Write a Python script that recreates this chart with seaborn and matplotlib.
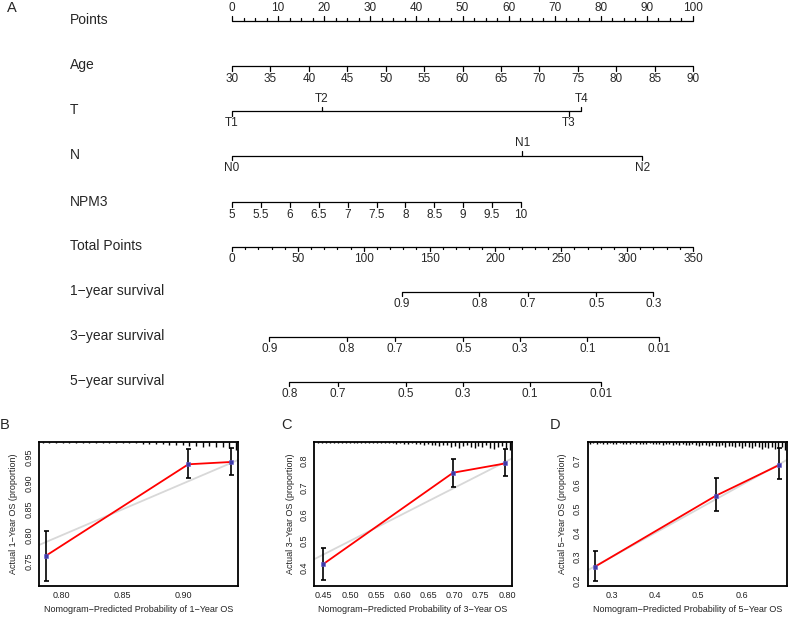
import numpy as np
import matplotlib
matplotlib.use("Agg")
import matplotlib.pyplot as plt
import seaborn as sns

sns.set_theme(style="white")
plt.rcParams["font.family"] = ["Liberation Sans", "DejaVu Sans"]

# ── Nomogram data (positions on the 0-100 "Points" scale) ──────
points_ticks = [0, 10, 20, 30, 40, 50, 60, 70, 80, 90, 100]
age_ticks = [30, 35, 40, 45, 50, 55, 60, 65, 70, 75, 80, 85, 90]
age_range = [30, 90]
t_labels = ["T1", "T2", "T3", "T4"]
t_points = [0, 19.5, 73.1, 75.8]
n_labels = ["N0", "N1", "N2"]
n_points = [0, 63.0, 89.0]
npm3_ticks = [5, 5.5, 6, 6.5, 7, 7.5, 8, 8.5, 9, 9.5, 10]
npm3_range = [5, 10]
npm3_max_points = 62.7
total_ticks = [0, 50, 100, 150, 200, 250, 300, 350]
total_max = 350

surv1_labels = ["0.9", "0.8", "0.7", "0.5", "0.3"]
surv1_total = [129.0, 187.8, 224.5, 276.6, 319.9]
surv3_labels = ["0.9", "0.8", "0.7", "0.5", "0.3", "0.1", "0.01"]
surv3_total = [28.3, 87.1, 123.8, 175.6, 218.7, 269.8, 324.0]
surv5_labels = ["0.8", "0.7", "0.5", "0.3", "0.1", "0.01"]
surv5_total = [43.5, 80.2, 132.1, 175.1, 226.0, 279.9]

# ── Calibration data ────────────────────────────────────────────
cal1_pred = [0.7877, 0.9041, 0.9388]
cal1_obs = [0.7615, 0.9366, 0.9410]
cal1_lo = [0.713, 0.911, 0.917]
cal1_hi = [0.809, 0.965, 0.968]
rug1 = [1, 1, 1, 1, 1, 1, 1, 1, 1, 1, 1, 1, 1, 1, 1, 2, 2, 2, 2, 3,
        3, 3, 4, 4, 5, 4, 5, 5, 6, 8]

cal3_pred = [0.4485, 0.697, 0.797]
cal3_obs = [0.4127, 0.756, 0.791]
cal3_lo = [0.354, 0.704, 0.744]
cal3_hi = [0.475, 0.809, 0.845]
rug3 = [1, 1, 1, 1, 1, 1, 1, 1, 1, 1, 1, 1, 1, 1, 1, 1, 1, 1, 1, 1,
        2, 1, 2, 2, 1, 2, 2, 3, 2, 3, 3, 4, 3, 3, 5, 4, 6, 4, 3, 5,
        6, 4, 5, 3, 6, 7, 5, 4, 6, 8]

cal5_pred = [0.2615, 0.5407, 0.6868]
cal5_obs = [0.2596, 0.5554, 0.6833]
cal5_lo = [0.200, 0.4929, 0.625]
cal5_hi = [0.3238, 0.630, 0.755]
rug5 = [2, 1, 2, 1, 2, 2, 1, 2, 2, 1, 2, 2, 2, 1, 2, 2, 2, 2, 1, 2,
        2, 2, 3, 2, 2, 3, 2, 3, 2, 3, 3, 2, 3, 4, 3, 3, 4, 3, 4, 4,
        3, 5, 4, 4, 5, 4, 6, 4, 5, 6, 4, 5, 7, 5, 6, 5, 7, 6, 5, 8]

W, H = 789, 617
fig = plt.figure(figsize=(W / 100, H / 100), dpi=100)

# ── Nomogram (panel A) ──────────────────────────────────────────
PX = 461 / 100          # pixels per point
X0 = 232                # pixel x of 0 points
ax = fig.add_axes([0, 1 - 400 / H, 1, 400 / H])
ax.set_xlim(-X0 / PX, (W - X0) / PX)
ax.set_ylim(400, 0)
ax.axis("off")

LW = 0.9
TXT = 8.5
MAJ, MIN = 4.5, 2.3


def draw_scale(y, pos, labels, sides, minor=None):
    ax.plot([min(pos), max(pos)], [y, y], color="black", lw=LW,
            solid_capstyle="butt")
    for p, lab, s in zip(pos, labels, sides):
        d = -1 if s == "up" else 1
        ax.plot([p, p], [y, y + d * MAJ], color="black", lw=LW)
        ax.text(p, y + d * 12.5, lab, ha="center", va="center", fontsize=TXT)
    if minor is not None:
        s = sides[0]
        d = -1 if s == "up" else 1
        for p in minor:
            ax.plot([p, p], [y, y + d * MIN], color="black", lw=LW)


def row_label(y, text):
    ax.text((70 - X0) / PX, y, text, ha="left", va="center", fontsize=10)


rows = {"Points": 20.5, "Age": 66, "T": 111, "N": 155.7, "NPM3": 202.3,
        "Total Points": 246.7, "1\u2212year survival": 291.7,
        "3\u2212year survival": 336.7, "5\u2212year survival": 381.7}
for name, y in rows.items():
    row_label(y - 0.8, name)

# Points
draw_scale(rows["Points"], points_ticks, [str(v) for v in points_ticks],
           ["up"] * len(points_ticks),
           minor=[v for v in np.arange(0, 100.1, 2.5) if v % 10 != 0])

# Age
age_pts = np.interp(age_ticks, age_range, [0, 100])
draw_scale(rows["Age"], age_pts, [str(v) for v in age_ticks],
           ["down"] * len(age_ticks))

# T
draw_scale(rows["T"], t_points, t_labels, ["down", "up", "down", "up"])

# N
draw_scale(rows["N"], n_points, n_labels, ["down", "up", "down"])

# NPM3
npm3_pts = np.interp(npm3_ticks, npm3_range, [0, npm3_max_points])
draw_scale(rows["NPM3"], npm3_pts, [f"{v:g}" for v in npm3_ticks],
           ["down"] * len(npm3_ticks))

# Total points
tot_pts = np.array(total_ticks) / total_max * 100
draw_scale(rows["Total Points"], tot_pts, [str(v) for v in total_ticks],
           ["down"] * len(total_ticks),
           minor=[v / total_max * 100 for v in range(0, 351, 10) if v % 50 != 0])

# survival scales
for key, labs, tot in [("1\u2212year survival", surv1_labels, surv1_total),
                       ("3\u2212year survival", surv3_labels, surv3_total),
                       ("5\u2212year survival", surv5_labels, surv5_total)]:
    draw_scale(rows[key], np.array(tot) / total_max * 100, labs,
               ["down"] * len(labs))

# ── Calibration panels (B, C, D) ────────────────────────────────
panels = [
    dict(left=39.3, right=238.3, xlim=(0.7822, 0.945), ylim=(0.7034, 0.9793),
         pred=cal1_pred, obs=cal1_obs, lo=cal1_lo, hi=cal1_hi,
         rug=rug1, rug_span=(0.785, 0.943),
         xt=[0.80, 0.85, 0.90], xfmt="{:.2f}",
         yt=[0.75, 0.80, 0.85, 0.90, 0.95], yfmt="{:.2f}", yr="1",
         letter="B", lx=5, ylab_x=13.5),
    dict(left=314.3, right=511.7, xlim=(0.432, 0.809), ylim=(0.3314, 0.8712),
         pred=cal3_pred, obs=cal3_obs, lo=cal3_lo, hi=cal3_hi,
         rug=rug3, rug_span=(0.44, 0.805),
         xt=[0.45, 0.50, 0.55, 0.60, 0.65, 0.70, 0.75, 0.80], xfmt="{:.2f}",
         yt=[0.4, 0.5, 0.6, 0.7, 0.8], yfmt="{:.1f}", yr="3",
         letter="C", lx=286, ylab_x=290.7),
    dict(left=587.7, right=786.7, xlim=(0.2446, 0.704), ylim=(0.179, 0.779),
         pred=cal5_pred, obs=cal5_obs, lo=cal5_lo, hi=cal5_hi,
         rug=rug5, rug_span=(0.25, 0.70),
         xt=[0.3, 0.4, 0.5, 0.6], xfmt="{:.1f}",
         yt=[0.2, 0.3, 0.4, 0.5, 0.6, 0.7], yfmt="{:.1f}", yr="5",
         letter="D", lx=554.7, ylab_x=562.7),
]

TOP, BOT = 442, 586
FS = 6.5
for p in panels:
    w = p["right"] - p["left"]
    cax = fig.add_axes([p["left"] / W, 1 - BOT / H, w / W, (BOT - TOP) / H])
    cax.set_xlim(*p["xlim"])
    cax.set_ylim(*p["ylim"])

    # ideal line
    cax.axline((0, 0), slope=1, color="#d8d8d8", lw=1.3, zorder=1)
    # observed calibration curve
    sns.lineplot(x=p["pred"], y=p["obs"], ax=cax, color="#ff0000", lw=1.3,
                 zorder=2, sort=True)
    cax.errorbar(p["pred"], p["obs"],
                 yerr=[np.array(p["obs"]) - np.array(p["lo"]),
                       np.array(p["hi"]) - np.array(p["obs"])],
                 fmt="none", ecolor="black", elinewidth=1.2, capsize=1.8,
                 capthick=1.2, zorder=3)
    sns.scatterplot(x=p["pred"], y=p["obs"], ax=cax, marker="s", s=11,
                    color="#3c3ca8", edgecolor="#6a5acd", linewidth=0.4,
                    zorder=4)

    # distribution of predictions along the top
    rx = np.linspace(p["rug_span"][0], p["rug_span"][1], len(p["rug"]))
    rh = np.array(p["rug"]) / (BOT - TOP)
    cax.vlines(rx, 1 - rh, 1, color="black", lw=1.0,
               transform=cax.get_xaxis_transform(), zorder=5)

    for s in cax.spines.values():
        s.set_visible(True)
        s.set_color("black")
        s.set_linewidth(1.3)

    cax.set_xticks(p["xt"])
    cax.set_xticklabels([p["xfmt"].format(v) for v in p["xt"]], fontsize=FS)
    cax.set_yticks(p["yt"])
    cax.set_yticklabels([p["yfmt"].format(v) for v in p["yt"]], fontsize=FS,
                        rotation=90, va="center")
    cax.tick_params(axis="both", direction="out", length=2.6, width=0.9,
                    color="black", pad=1.5, labelcolor="#222222")
    cax.tick_params(axis="x", length=0, pad=3.5)
    cax.set_xlabel(f"Nomogram\u2212Predicted Probability of {p['yr']}\u2212Year OS",
                   fontsize=FS, color="#222222")
    cax.set_ylabel(f"Actual {p['yr']}\u2212Year OS (proportion)", fontsize=FS,
                   color="#222222")
    cax.xaxis.set_label_coords(0.5, -(605.5 - BOT) / (BOT - TOP))
    cax.yaxis.set_label_coords((p["ylab_x"] + 4.5 - p["left"]) / w, 0.5)
    cax.grid(False)

    fig.text(p["lx"] / W, 1 - 425 / H, p["letter"], ha="center", va="center",
             fontsize=10.5)

fig.text(12 / W, 1 - 7.7 / H, "A", ha="center", va="center", fontsize=10.5)

fig.savefig("out.png", dpi=100, facecolor="white")
